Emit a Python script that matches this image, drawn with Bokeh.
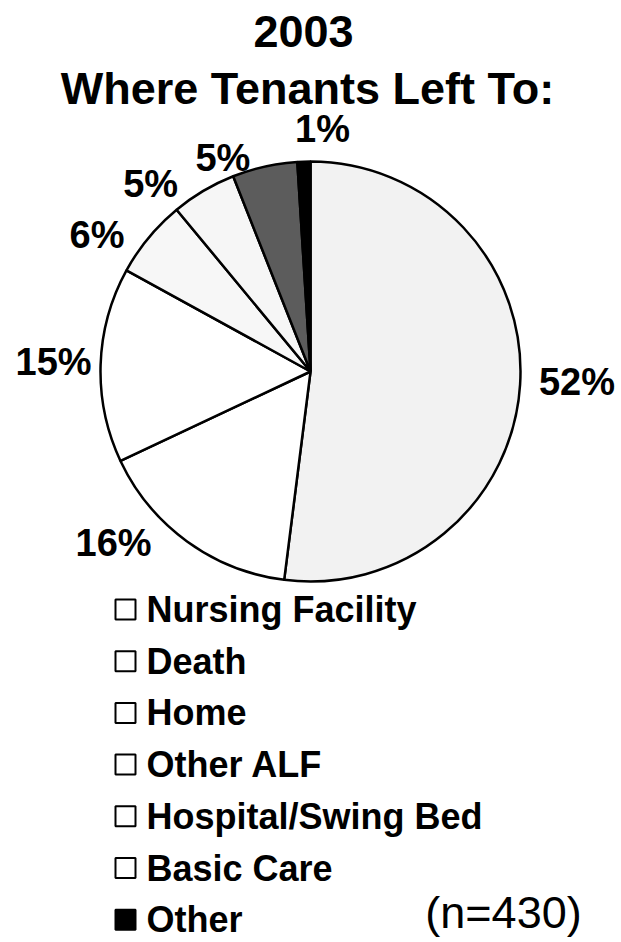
import math
from bokeh.plotting import figure
from bokeh.models import Range1d, ColumnDataSource
from bokeh.core.properties import value
from bokeh.embed import file_html
from bokeh.resources import INLINE

# ---------------- data ----------------
title_year = "2003"
title_text = "Where Tenants Left To:"
categories = ["Nursing Facility", "Death", "Home", "Other ALF",
              "Hospital/Swing Bed", "Basic Care", "Other"]
percents = [52, 16, 15, 6, 5, 5, 1]
sample_note = "(n=430)"

# ---------------- styles / layout ----------------
slice_colors = ["#f2f2f2", "#ffffff", "#ffffff", "#f7f7f7", "#f6f6f6", "#5c5c5c", "#000000"]
legend_colors = ["#ffffff", "#ffffff", "#ffffff", "#ffffff", "#ffffff", "#ffffff", "#000000"]
# label nudges (screen px) from a common label radius
label_nudge = [(12, -6), (-47, -35), (-2, -1), (-17, 26), (-30, 32), (-32, 35), (20, 12)]

W, H = 621, 942
O = 0
PAGE_H = 942
FONT = "Liberation Sans"

def sy(y):
    """screen y -> data y (data y grows upwards)"""
    return PAGE_H - y

cx, cy, R = 310, sy(371), 210
label_r = 255

p = figure(width=W, height=H, output_backend="svg", toolbar_location=None,
           x_range=Range1d(O, O + W), y_range=Range1d(PAGE_H - O - H, PAGE_H - O),
           x_axis_type=None, y_axis_type=None, min_border=0)
p.grid.visible = False
p.outline_line_color = None
p.background_fill_color = "white"
p.border_fill_color = "white"

# pie wedges (start at 12 o'clock, clockwise)
total = sum(percents)
starts, ends, mids = [], [], []
acc = 0.0
for v in percents:
    a0 = acc / total
    acc += v
    a1 = acc / total
    starts.append(math.pi / 2 - a0 * 2 * math.pi)
    ends.append(math.pi / 2 - a1 * 2 * math.pi)
    mids.append((a0 + a1) / 2 * 2 * math.pi)  # clockwise from top

src = ColumnDataSource(dict(start=starts, end=ends, color=slice_colors,
                            cat=categories, pct=percents))
p.wedge(x=cx, y=cy, radius=R, start_angle="start", end_angle="end",
        direction="clock", fill_color="color", line_color="black",
        line_width=2.5, source=src)

# percent labels
lx, ly, lt = [], [], []
for v, m, (dx, dy) in zip(percents, mids, label_nudge):
    lx.append(cx + label_r * math.sin(m) + dx)
    ly.append(cy + label_r * math.cos(m) - dy)
    lt.append(f"{v}%")
p.text(x=lx, y=ly, text=lt, text_font=value(FONT), text_font_style="bold",
       text_font_size="38px", text_align="center", text_baseline="middle",
       text_color="black")

# titles
p.text(x=[303], y=[sy(31)], text=[title_year], text_font=value(FONT),
       text_font_style="bold", text_font_size="45px", text_align="center",
       text_baseline="middle", text_color="black")
p.text(x=[307], y=[sy(88)], text=[title_text], text_font=value(FONT),
       text_font_style="bold", text_font_size="45px", text_align="center",
       text_baseline="middle", text_color="black")

# legend
row0, step = 609, 51.7
leg_y = [sy(row0 + i * step) for i in range(len(categories))]
p.rect(x=[125] * len(categories), y=leg_y, width=20, height=20,
       fill_color=legend_colors, line_color="black", line_width=2)
p.text(x=[146] * len(categories), y=leg_y, text=categories, text_font=value(FONT),
       text_font_style="bold", text_font_size="36px", text_align="left",
       text_baseline="middle", text_color="black")

p.text(x=[503], y=[sy(912)], text=[sample_note], text_font=value(FONT),
       text_font_size="45px", text_align="center", text_baseline="middle",
       text_color="black")

open("out.html", "w").write(file_html(p, INLINE))
